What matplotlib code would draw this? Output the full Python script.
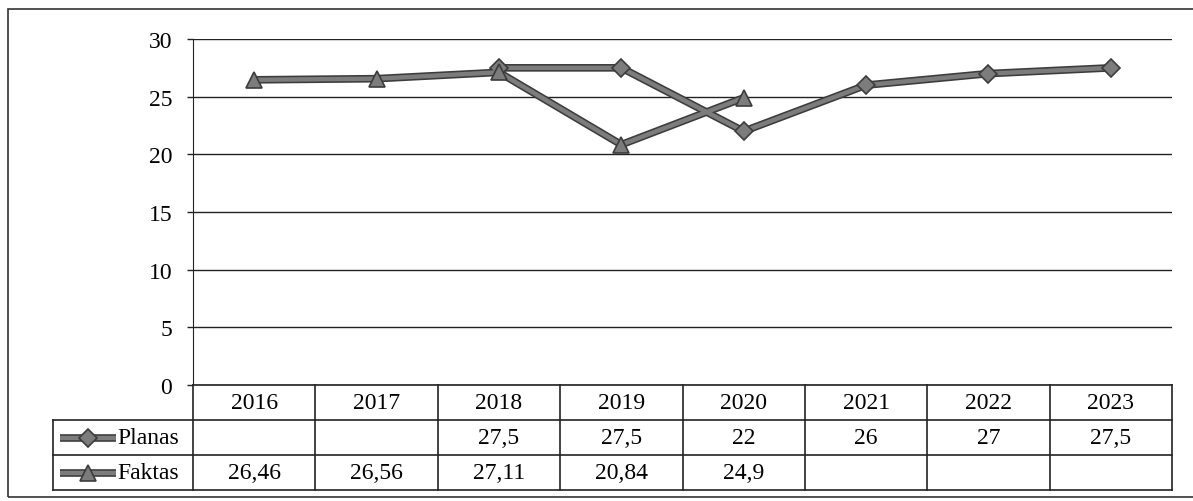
import numpy as np
import matplotlib
matplotlib.use("Agg")
import matplotlib.pyplot as plt
from matplotlib.lines import Line2D
from matplotlib.patches import Rectangle

plt.rcParams["font.family"] = ["Liberation Serif", "DejaVu Serif"]

years = ["2016", "2017", "2018", "2019", "2020", "2021", "2022", "2023"]
planas = [np.nan, np.nan, 27.5, 27.5, 22, 26, 27, 27.5]
faktas = [26.46, 26.56, 27.11, 20.84, 24.9, np.nan, np.nan, np.nan]
series_names = ["Planas", "Faktas"]
y_ticks = [0, 5, 10, 15, 20, 25, 30]

W, H = 1193, 502
fig = plt.figure(figsize=(W / 100, H / 100), dpi=100)
fs = 17

# outer frame
fig.patches.append(Rectangle((8 / W, 4 / H), 1.2, 488 / H, transform=fig.transFigure,
                             fill=False, edgecolor="#333333", lw=1.2))

left, right, top, bottom = 193, 1172, 40, 386
ax = fig.add_axes([left / W, (H - bottom) / H, (right - left) / W, (bottom - top) / H])

x = np.arange(len(years))
grey = "#7c7c7c"
edge = "#3c3c3c"
styles = [("D", 9), ("^", 11)]
for vals, (mk, ms) in zip([planas, faktas], styles):
    v = np.array(vals, dtype=float)
    ax.plot(x, v, color=edge, lw=5.5, solid_capstyle="butt", zorder=3)
    ax.plot(x, v, color=grey, lw=3.2, marker=mk, ms=ms, mfc=grey, mec=edge, mew=1.2, zorder=4)

ax.set_xlim(-0.5, len(years) - 0.5)
ax.set_ylim(0, 30)
ax.set_yticks(y_ticks)
ax.set_yticklabels([str(t) for t in y_ticks], fontsize=fs)
ax.tick_params(axis="y", length=4, width=1, pad=11, color="#222222")
ax.set_xticks([])
for s in ["top", "right"]:
    ax.spines[s].set_visible(False)
ax.spines["left"].set_color("#222222")
ax.spines["bottom"].set_visible(False)
for t in y_ticks:
    ax.axhline(t, color="#222222", lw=1, zorder=1)

# data table below the axes
row_h = 35 / (bottom - top)
lab_x = (53 - left) / (right - left)
tr = ax.get_xaxis_transform()
lc = "#222222"
n = len(years)

def hline(x0, x1, y):
    ax.add_line(Line2D([x0, x1], [y, y], color=lc, lw=1.2, clip_on=False,
                       transform=ax.transAxes))

def vline(xa, y0, y1):
    ax.add_line(Line2D([xa, xa], [y0, y1], color=lc, lw=1.2, clip_on=False,
                       transform=ax.transAxes))

hline(0, 1, 0)
hline(lab_x, 1, -row_h)
hline(lab_x, 1, -2 * row_h)
hline(lab_x, 1, -3 * row_h)
for i in range(n + 1):
    vline(i / n, 0, -3 * row_h)
vline(lab_x, -row_h, -3 * row_h)

for i, yr in enumerate(years):
    ax.text(i, -0.5 * row_h, yr, transform=tr, ha="center", va="center",
            fontsize=fs, clip_on=False)
for r, vals in enumerate([planas, faktas]):
    yc = -(r + 1.5) * row_h
    for i, v in enumerate(vals):
        if not np.isnan(v):
            ax.text(i, yc, f"{v:g}".replace(".", ","), transform=tr, ha="center",
                    va="center", fontsize=fs, clip_on=False)
    # legend key
    mk, ms = styles[r]
    kx0 = (60 - left) / (right - left)
    kx1 = (116 - left) / (right - left)
    ax.add_line(Line2D([kx0, kx1], [yc, yc], color=edge, lw=5.5, transform=ax.transAxes,
                       clip_on=False, solid_capstyle="butt"))
    ax.add_line(Line2D([kx0, kx1], [yc, yc], color=grey, lw=3.2, transform=ax.transAxes,
                       clip_on=False, solid_capstyle="butt"))
    ax.add_line(Line2D([(kx0 + kx1) / 2], [yc], marker=mk, ms=ms, mfc=grey, mec=edge,
                       mew=1.2, lw=0, transform=ax.transAxes, clip_on=False))
    ax.text((117 - left) / (right - left), yc, series_names[r], transform=ax.transAxes,
            ha="left", va="center", fontsize=fs, clip_on=False)

fig.savefig("out.png", dpi=100)
